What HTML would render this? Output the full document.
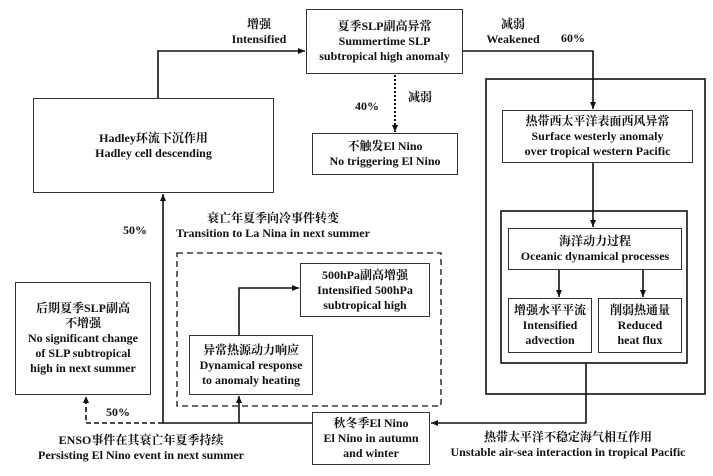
<!DOCTYPE html>
<html><head><meta charset="utf-8"><style>
body{margin:0;width:713px;height:476px;background:#fff;position:relative;overflow:hidden;font-family:"Liberation Serif","Noto Serif CJK SC",serif;font-weight:bold;font-size:12px;color:#111}
.b{position:absolute;box-sizing:border-box;border:1.5px solid #333;display:flex;flex-direction:column;justify-content:center;align-items:center;text-align:center;line-height:15px;background:#fff}
.t{position:absolute;text-align:center;line-height:15px;white-space:nowrap;transform:translateX(-50%)}
svg{position:absolute;left:0;top:0}
</style></head><body>
<svg width="713" height="476">
<defs><marker id="a" markerWidth="8" markerHeight="8" refX="7" refY="4" orient="auto" markerUnits="userSpaceOnUse"><path d="M0,1 L7,4 L0,7 z" fill="#111"/></marker></defs>
<g fill="none" stroke="#111" stroke-width="1.6">
<rect x="486" y="79" width="219" height="315"/>
<rect x="501" y="211" width="186" height="152"/>
<rect x="177" y="253" width="264" height="153" stroke-dasharray="6,4" stroke-width="1.3"/>
<polyline points="158,98 158,51 305,51" marker-end="url(#a)"/>
<polyline points="463,51 593,51 593,109" marker-end="url(#a)"/>
<line x1="395" y1="75" x2="395" y2="132" stroke-dasharray="2,2" stroke-width="2" marker-end="url(#a)"/>
<line x1="593" y1="163" x2="593" y2="227" marker-end="url(#a)"/>
<line x1="559" y1="270" x2="559" y2="297" marker-end="url(#a)"/>
<line x1="643" y1="270" x2="643" y2="297" marker-end="url(#a)"/>
<polyline points="586,363 586,423 431,423" marker-end="url(#a)"/>
<polyline points="312,423 163,423 163,194" marker-end="url(#a)"/>
<line x1="239" y1="423" x2="239" y2="396" marker-end="url(#a)"/>
<polyline points="239,335 239,288 299,288" marker-end="url(#a)"/>
<polyline points="163,423 86,423 86,396" stroke-dasharray="5,3" marker-end="url(#a)"/>
</g></svg>
<div class="b" style="left:306px;top:9px;width:157px;height:65px">夏季SLP副高异常<br>Summertime SLP<br>subtropical high anomaly</div>
<div class="b" style="left:33px;top:98px;width:241px;height:95px">Hadley环流下沉作用<br>Hadley cell descending</div>
<div class="b" style="left:312px;top:133px;width:146px;height:42px">不触发El Nino<br>No triggering El Nino</div>
<div class="b" style="left:502px;top:110px;width:191px;height:53px">热带西太平洋表面西风异常<br>Surface westerly anomaly<br>over tropical western Pacific</div>
<div class="b" style="left:508px;top:228px;width:174px;height:42px">海洋动力过程<br>Oceanic dynamical processes</div>
<div class="b" style="left:508px;top:298px;width:84px;height:55px">增强水平平流<br>Intensified<br>advection</div>
<div class="b" style="left:598px;top:298px;width:84px;height:55px">削弱热通量<br>Reduced<br>heat flux</div>
<div class="b" style="left:15px;top:282px;width:136px;height:113px">后期夏季SLP副高<br>不增强<br>No significant change<br>of SLP subtropical<br>high in next summer</div>
<div class="b" style="left:189px;top:335px;width:124px;height:60px">异常热源动力响应<br>Dynamical response<br>to anomaly heating</div>
<div class="b" style="left:300px;top:263px;width:130px;height:54px">500hPa副高增强<br>Intensified 500hPa<br>subtropical high</div>
<div class="b" style="left:312px;top:412px;width:118px;height:53px">秋冬季El Nino<br>El Nino in autumn<br>and winter</div>
<div class="t" style="left:259px;top:17px">增强<br>Intensified</div>
<div class="t" style="left:513px;top:17px">减弱<br>Weakened</div>
<div class="t" style="left:573px;top:31px">60%</div>
<div class="t" style="left:367px;top:99px">40%</div>
<div class="t" style="left:420px;top:90px">减弱</div>
<div class="t" style="left:135px;top:223px">50%</div>
<div class="t" style="left:273px;top:211px">衰亡年夏季向冷事件转变<br>Transition to La Nina in next summer</div>
<div class="t" style="left:118px;top:405px">50%</div>
<div class="t" style="left:141px;top:433px">ENSO事件在其衰亡年夏季持续<br>Persisting El Nino event in next summer</div>
<div class="t" style="left:568px;top:430px">热带太平洋不稳定海气相互作用<br>Unstable air-sea interaction in tropical Pacific</div>
</body></html>
